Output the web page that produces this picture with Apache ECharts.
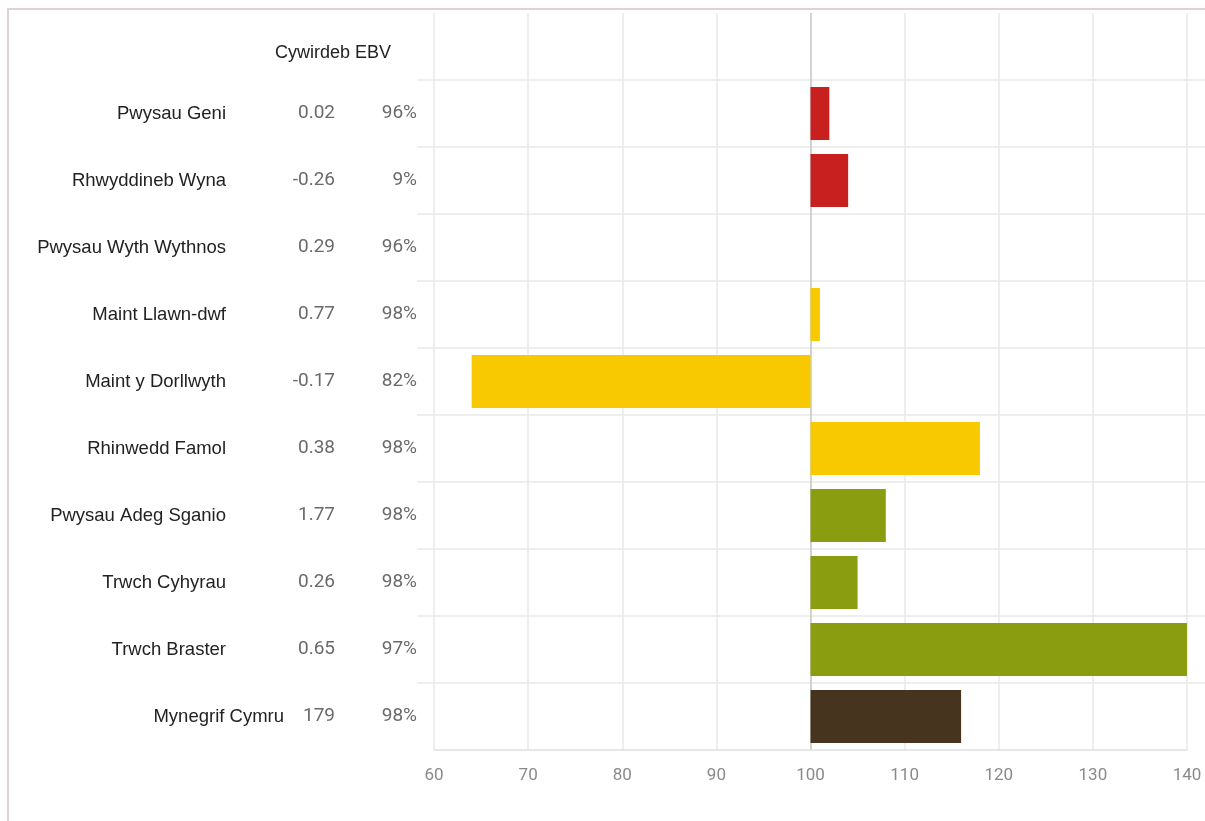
<!DOCTYPE html>
<html>
<head>
<meta charset="utf-8">
<script src="https://cdn.jsdelivr.net/npm/echarts@6/dist/echarts.min.js"></script>
<style>
  html, body { margin: 0; padding: 0; background: #fff; }
  #frame { position: absolute; left: 7px; top: 8px; width: 1220px; height: 840px;
           border-top: 2px solid #dcd4d3; border-left: 2px solid #dcd4d3; }
  #chart { position: absolute; left: 0; top: 0; width: 1205px; height: 821px; }
</style>
</head>
<body>
<div id="frame"></div>
<div id="chart"></div>
<script>
// ---- data ----
const categories = ['Pwysau Geni', 'Rhwyddineb Wyna', 'Pwysau Wyth Wythnos', 'Maint Llawn-dwf',
  'Maint y Dorllwyth', 'Rhinwedd Famol', 'Pwysau Adeg Sganio', 'Trwch Cyhyrau', 'Trwch Braster', 'Mynegrif Cymru'];
const ebvValues = ['0.02', '-0.26', '0.29', '0.77', '-0.17', '0.38', '1.77', '0.26', '0.65', '179'];
const accuracyValues = ['96%', '9%', '96%', '98%', '82%', '98%', '98%', '98%', '97%', '98%'];
const indexValues = [102, 104, 100, 101, 64, 118, 108, 105, 140, 116];
const barColors = ['#c8201f', '#c8201f', '#c8201f', '#f9c900', '#f9c900', '#f9c900',
  '#8a9c10', '#8a9c10', '#8a9c10', '#46341f'];
const headerText = 'Cywirdeb EBV';
const baseline = 100;
const xTicks = [60, 70, 80, 90, 100, 110, 120, 130, 140];

const yCats = [''].concat(categories);
const lastIdx = categories.length - 1;

const chart = echarts.init(document.getElementById('chart'), null, { renderer: 'canvas' });

const grid = '#e8e8e8';
const nameFont = 'Liberation Sans, Arial, sans-serif';
const numFont = 'Roboto, sans-serif';
const option = {
  animation: false,
  backgroundColor: 'transparent',
  title: {
    text: headerText, left: 275, top: 44, padding: 0,
    textStyle: { fontSize: 18, fontWeight: 'normal', color: '#222', fontFamily: nameFont }
  },
  grid: [
    { left: 434, right: 18, top: 13, bottom: 71 },
    { left: 417, right: 0, top: 13, bottom: 71 }
  ],
  xAxis: [
    {
      gridIndex: 0, type: 'value', min: xTicks[0], max: xTicks[xTicks.length - 1], interval: 10,
      axisLine: { show: true, lineStyle: { color: '#e0e0e0', width: 1.5 } },
      axisTick: { show: false },
      axisLabel: { color: '#8a8a8a', fontSize: 17, margin: 17, fontFamily: numFont },
      splitLine: {
        show: true,
        lineStyle: { width: 1.5, color: xTicks.map(t => t === baseline ? '#c4c4c4' : grid) }
      }
    },
    { gridIndex: 1, type: 'value', min: 0, max: 1, show: false }
  ],
  yAxis: [
    {
      gridIndex: 0, type: 'category', data: yCats, inverse: true,
      axisLine: { show: false }, axisTick: { show: false }, splitLine: { show: false },
      axisLabel: {
        interval: 0, margin: 17,
        formatter: (val, idx) => {
          if (idx === 0) return '';
          const i = idx - 1;
          const n = i === lastIdx ? 'nl' : 'n';
          const e = i === lastIdx ? 'el' : 'e';
          return '{' + n + '|' + categories[i] + '}{' + e + '|' + ebvValues[i] + '}{a|' + accuracyValues[i] + '}';
        },
        rich: {
          n: { width: 200, align: 'right', fontSize: 18.5, color: '#222', fontFamily: nameFont },
          nl: { width: 258, align: 'right', fontSize: 18.5, color: '#222', fontFamily: nameFont },
          e: { width: 109, align: 'right', fontSize: 19, color: '#6a6a6a', fontFamily: numFont },
          el: { width: 51, align: 'right', fontSize: 19, color: '#6a6a6a', fontFamily: numFont },
          a: { width: 82, align: 'right', fontSize: 19, color: '#6a6a6a', fontFamily: numFont }
        }
      }
    },
    {
      gridIndex: 1, type: 'value', min: 0, max: yCats.length, interval: 1, inverse: true,
      axisLine: { show: false }, axisTick: { show: false }, axisLabel: { show: false },
      splitLine: { show: true, showMinLine: false, showMaxLine: false, lineStyle: { color: grid, width: 1.5 } }
    }
  ],
  series: [
    {
      type: 'custom',
      xAxisIndex: 0, yAxisIndex: 0,
      encode: { x: 0, y: 1 },
      data: indexValues.map((v, i) => [v, categories[i]]),
      renderItem: (params, api) => {
        const cat = api.value(1);
        const v = api.value(0);
        const p0 = api.coord([baseline, cat]);
        const p1 = api.coord([v, cat]);
        const h = api.size([0, 1])[1] * 0.79;
        return {
          type: 'rect',
          shape: { x: Math.min(p0[0], p1[0]), y: p0[1] - h / 2, width: Math.abs(p1[0] - p0[0]), height: h },
          style: { fill: barColors[params.dataIndex] }
        };
      }
    }
  ]
};
chart.setOption(option);
</script>
</body>
</html>
